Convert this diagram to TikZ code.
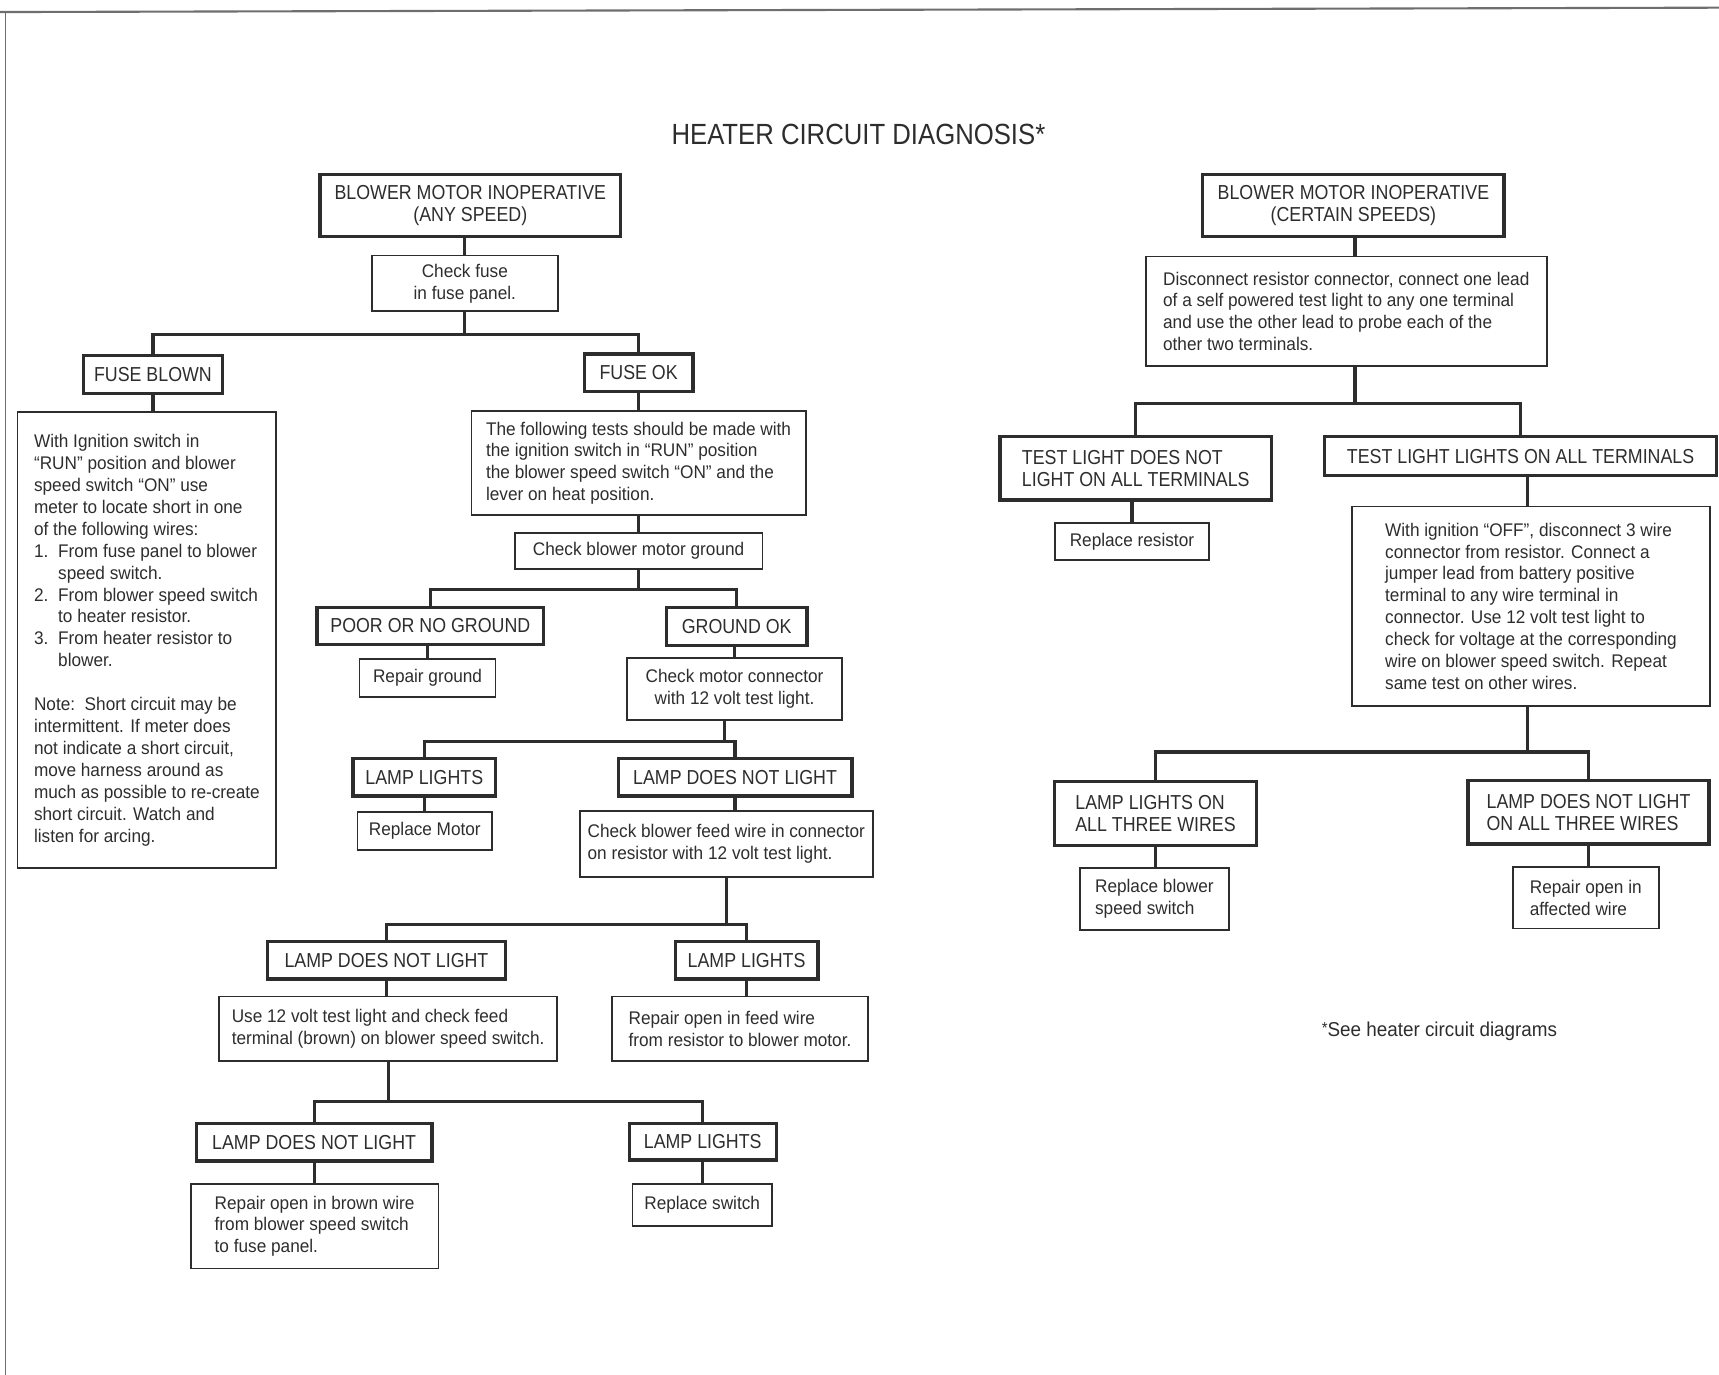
\documentclass[tikz,border=0pt]{standalone}
\usepackage{fontspec}
\setmainfont{Liberation Sans}
\newfontfamily\capsfont{Liberation Sans}[FakeStretch=0.88]
\newfontfamily\bodyfont{Liberation Sans}[FakeStretch=0.94]
\usepackage{tikz}
\usetikzlibrary{positioning, calc}
\usepackage{xcolor}
\definecolor{inkcol}{RGB}{45,45,45}
\definecolor{framecol}{RGB}{110,110,110}
\newdimen\upx \upx=0.0219cm
\newcommand{\lstnum}[1]{\makebox[22\upx][l]{#1}}
\newcommand{\lstind}{\hspace*{22\upx}}
\tikzset{
  sz/.style 2 args={minimum width=#1\upx, minimum height=#2\upx},
  hdb/.style={rectangle, draw=inkcol, line width=1.9pt, text=inkcol,
    align=center, inner sep=0pt,
    font=\capsfont\fontsize{11.5}{12.45}\selectfont},
  hdl/.style={hdb, align=left},
  txb/.style={rectangle, draw=inkcol, line width=1pt, text=inkcol,
    align=center, inner sep=0pt,
    font=\bodyfont\fontsize{10.4}{12.45}\selectfont},
  txl/.style={txb, align=left},
  ttl/.style={text=inkcol, font=\capsfont\fontsize{16.6}{20}\selectfont},
  fnote/.style={text=inkcol, font=\bodyfont\fontsize{11.4}{13}\selectfont},
  wire/.style={draw=inkcol, line width=1.8pt},
}

\begin{document}
\begin{tikzpicture}[x=0.0219cm, y=-0.0219cm]
  \useasboundingbox (0,0) rectangle (1568,1254);

  % Page frame
  \draw[framecol, line width=1.2pt] (0,11) -- (1568,7);
  \draw[framecol, line width=1pt] (5,11) -- (5,1254);

  % Title
  \node[ttl] (title) at (783,123) {HEATER CIRCUIT DIAGNOSIS*};

  % Left chart (any speed)
  \node[hdb, sz={274}{57}] (anyspd) at (429,187.5)
       {BLOWER MOTOR INOPERATIVE\\(ANY SPEED)};
  \node[txb, sz={170}{51}] (fuse) at (424,258.5)
       {Check fuse\\in fuse panel.};
  \node[hdb, sz={127}{35}] (blown) at (139.5,341.5) {FUSE BLOWN};
  \node[hdb, sz={99}{34}] (fuseok) at (582.5,340) {FUSE OK};
  \node[txl, sz={236}{416}] (short) at (134,584)
       {With Ignition switch in\\
        “RUN” position and blower\\
        speed switch “ON” use\\
        meter to locate short in one\\
        of the following wires:\\
        \lstnum{1.}From fuse panel to blower\\
        \lstind speed switch.\\
        \lstnum{2.}From blower speed switch\\
        \lstind to heater resistor.\\
        \lstnum{3.}From heater resistor to\\
        \lstind blower.\\[12.6pt]
        Note:\ \ Short circuit may be\\
        intermittent. If meter does\\
        not indicate a short circuit,\\
        move harness around as\\
        much as possible to re-create\\
        short circuit. Watch and\\
        listen for arcing.};
  \node[txl, sz={305}{95}] (tests) at (582.5,422.5)
       {The following tests should be made with\\
        the ignition switch in “RUN” position\\
        the blower speed switch “ON” and the\\
        lever on heat position.};
  \node[txb, sz={226}{33}] (gndchk) at (582.5,502.5)
       {Check blower motor ground};
  \node[hdb, sz={207}{34}] (poorgnd) at (392.5,571) {POOR OR NO GROUND};
  \node[hdb, sz={128}{35}] (gndok) at (672,571.5) {GROUND OK};
  \node[txb, sz={124}{35}] (repgnd) at (390,618.5) {Repair ground};
  \node[txb, sz={196}{57}] (motconn) at (670,628.5)
       {Check motor connector\\with 12 volt test light.};
  \node[hdb, sz={130}{34}] (litA) at (387,709) {LAMP LIGHTS};
  \node[hdb, sz={213}{34}] (darkA) at (670.5,709) {LAMP DOES NOT LIGHT};
  \node[txb, sz={123}{34}] (repmot) at (387.5,758) {Replace Motor};
  \node[txl, sz={267}{60}] (feed) at (662.5,770)
       {Check blower feed wire in connector\\
        on resistor with 12 volt test light.};
  \node[hdb, sz={217}{34}] (darkB) at (352.5,876) {LAMP DOES NOT LIGHT};
  \node[hdb, sz={130}{34}] (litB) at (681,876) {LAMP LIGHTS};
  \node[txl, sz={308}{59}] (brownchk) at (354,938.5)
       {Use 12 volt test light and check feed\\
        terminal (brown) on blower speed switch.};
  \node[txl, sz={234}{59}] (repfeed) at (675,938.5)
       {Repair open in feed wire\\
        from resistor to blower motor.};
  \node[hdb, sz={215}{34}] (darkC) at (286.5,1042) {LAMP DOES NOT LIGHT};
  \node[hdb, sz={134}{33}] (litC) at (641,1041.5) {LAMP LIGHTS};
  \node[txl, sz={226}{77}] (repbrown) at (287,1118.5)
       {Repair open in brown wire\\
        from blower speed switch\\
        to fuse panel.};
  \node[txb, sz={127}{38}] (repsw) at (640.5,1099) {Replace switch};

  % Junctions (left)
  \coordinate (jA) at (424,305);
  \coordinate (jB) at (582.5,538);
  \coordinate (jC) at (661,676);
  \coordinate (jD) at (662.5,843);
  \coordinate (jE) at (354,1005);

  % Connectors (left)
  \draw[wire] (anyspd.south -| fuse.north) -- (fuse.north);
  \draw[wire] (fuse.south) -- (fuse.south |- jA);
  \draw[wire] (blown.north) |- (jA) -| (fuseok.north);
  \draw[wire] (blown.south) -- (blown.south |- short.north);
  \draw[wire] (fuseok.south) -- (fuseok.south |- tests.north);
  \draw[wire] (tests.south) -- (tests.south |- gndchk.north);
  \draw[wire] (gndchk.south) -- (gndchk.south |- jB);
  \draw[wire] (poorgnd.north) |- (jB) -| (gndok.north);
  \draw[wire] (repgnd.north) -- (repgnd.north |- poorgnd.south);
  \draw[wire] (motconn.north) -- (motconn.north |- gndok.south);
  \draw[wire] (jC |- motconn.south) -- (jC);
  \draw[wire] (litA.north) |- (jC) -| (darkA.north);
  \draw[wire] (repmot.north) -- (repmot.north |- litA.south);
  \draw[wire] (darkA.south) -- (darkA.south |- feed.north);
  \draw[wire] (feed.south) -- (feed.south |- jD);
  \draw[wire] (darkB.north) |- (jD) -| (litB.north);
  \draw[wire] (darkB.south) -- (darkB.south |- brownchk.north);
  \draw[wire] (litB.south) -- (litB.south |- repfeed.north);
  \draw[wire] (brownchk.south) -- (brownchk.south |- jE);
  \draw[wire] (darkC.north) |- (jE) -| (litC.north);
  \draw[wire] (darkC.south) -- (darkC.south |- repbrown.north);
  \draw[wire] (litC.south) -- (litC.south |- repsw.north);

  % Right chart (certain speeds)
  \node[hdb, sz={275}{57}] (certspd) at (1234.5,187.5)
       {BLOWER MOTOR INOPERATIVE\\(CERTAIN SPEEDS)};
  \node[txl, sz={366}{100}] (probe) at (1228,284)
       {Disconnect resistor connector, connect one lead\\
        of a self powered test light to any one terminal\\
        and use the other lead to probe each of the\\
        other two terminals.};
  \node[hdl, sz={248}{58}] (tlnone) at (1036,427)
       {TEST LIGHT DOES NOT\\LIGHT ON ALL TERMINALS};
  \node[hdb, sz={358}{36}] (tlall) at (1387,416)
       {TEST LIGHT LIGHTS ON ALL TERMINALS};
  \node[txb, sz={141}{34}] (repres) at (1032.5,494) {Replace resistor};
  \node[txl, sz={327}{182}] (jumper) at (1396.5,553)
       {With ignition “OFF”, disconnect 3 wire\\
        connector from resistor. Connect a\\
        jumper lead from battery positive\\
        terminal to any wire terminal in\\
        connector. Use 12 volt test light to\\
        check for voltage at the corresponding\\
        wire on blower speed switch. Repeat\\
        same test on other wires.};
  \node[hdl, sz={184}{58}] (litall) at (1054,742)
       {LAMP LIGHTS ON\\ALL THREE WIRES};
  \node[hdl, sz={220}{58}] (darkall) at (1449,741)
       {LAMP DOES NOT LIGHT\\ON ALL THREE WIRES};
  \node[txl, sz={136}{56}] (repbsw) at (1053,820)
       {Replace blower\\speed switch};
  \node[txl, sz={133}{56}] (repwire) at (1446.5,819)
       {Repair open in\\affected wire};

  % Junctions (right)
  \coordinate (jF) at (1236,368);
  \coordinate (jG) at (1393,686);

  % Connectors (right)
  \draw[wire] (certspd.south -| jF) -- (jF |- probe.north);
  \draw[wire] (jF |- probe.south) -- (jF);
  \draw[wire] (tlnone.north) |- (jF) -| (tlall.north);
  \draw[wire] (repres.north) -- (repres.north |- tlnone.south);
  \draw[wire] (jG |- tlall.south) -- (jG |- jumper.north);
  \draw[wire] (jG |- jumper.south) -- (jG);
  \draw[wire] (litall.north) |- (jG) -| (darkall.north);
  \draw[wire] (litall.south) -- (litall.south |- repbsw.north);
  \draw[wire] (darkall.south) -- (darkall.south |- repwire.north);

  % Footnote
  \node[fnote] (seediag) at (1313,941)
       {\raisebox{2pt}{\small *}See heater circuit diagrams};
\end{tikzpicture}
\end{document}
